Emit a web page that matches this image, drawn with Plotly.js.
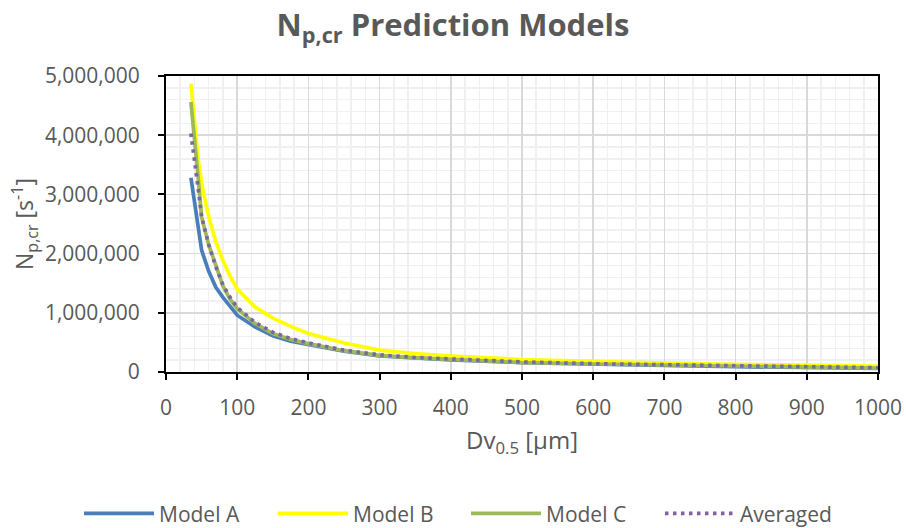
<!DOCTYPE html>
<html>
<head>
<meta charset="utf-8">
<script src="https://cdn.plot.ly/plotly-3.0.1.min.js"></script>
<style>html,body{margin:0;padding:0;background:#fff;}#chart{width:906px;height:528px;}</style>
</head>
<body>
<div id="chart"></div>
<script>
// Particle diameter Dv0.5 [µm]
const dv = [35, 40, 45, 50, 60, 70, 80, 90, 100, 125, 150, 175, 200, 250, 300, 350, 400, 500, 600, 700, 800, 900, 1000];
// Np,cr [s^-1]
const modelA = [3280000, 2850000, 2450000, 2060000, 1700000, 1430000, 1260000, 1100000, 960000, 760000, 610000, 520000, 460000, 350000, 270000, 235000, 205000, 160000, 130000, 110000, 90000, 75000, 60000];
const modelB = [4870000, 4150000, 3600000, 3180000, 2620000, 2200000, 1880000, 1620000, 1400000, 1100000, 910000, 770000, 650000, 490000, 370000, 310000, 270000, 210000, 175000, 150000, 130000, 115000, 100000];
const modelC = [4560000, 3850000, 3300000, 2620000, 2150000, 1800000, 1450000, 1230000, 1070000, 820000, 650000, 550000, 480000, 360000, 280000, 240000, 210000, 160000, 135000, 115000, 95000, 80000, 65000];
const averaged = [4030000, 3600000, 3120000, 2620000, 2150000, 1780000, 1470000, 1260000, 1090000, 840000, 670000, 565000, 490000, 370000, 290000, 245000, 215000, 170000, 140000, 120000, 100000, 85000, 72000];
const seriesNames = ['Model A', 'Model B', 'Model C', 'Averaged'];

const FONT = 'Open Sans, sans-serif';
const GREY = '#595959';
const W = 906;

const traces = [
  {x: dv, y: modelA, name: seriesNames[0], mode: 'lines', legend: 'legend', line: {color: '#4a7ebb', width: 3.7}},
  {x: dv, y: modelB, name: seriesNames[1], mode: 'lines', legend: 'legend2', line: {color: '#ffff00', width: 3.7}},
  {x: dv, y: modelC, name: seriesNames[2], mode: 'lines', legend: 'legend3', line: {color: '#9bbb59', width: 3.7}},
  {x: dv, y: averaged, name: seriesNames[3], mode: 'lines', legend: 'legend4', line: {color: '#8064a2', width: 3.7, dash: '3.5px,4.5px'}}
];

function leg(px) {
  return {
    orientation: 'h', x: px / W, xref: 'container', xanchor: 'left',
    y: 0.027, yref: 'container', yanchor: 'middle',
    font: {family: FONT, size: 21, color: GREY},
    itemwidth: 70, bgcolor: 'rgba(0,0,0,0)', borderwidth: 0
  };
}

const layout = {
  width: 906, height: 528,
  paper_bgcolor: '#ffffff', plot_bgcolor: '#ffffff',
  margin: {l: 166, r: 28, t: 76, b: 156, autoexpand: false},
  font: {family: FONT, color: GREY, size: 21},
  title: {
    text: '<b>N<sub>p,cr</sub> Prediction Models</b>',
    font: {family: FONT, size: 31, color: GREY},
    x: 0.5, xanchor: 'center', y: 0.952, yanchor: 'middle'
  },
  xaxis: {
    range: [0, 1000], dtick: 100, tick0: 0,
    showline: true, linecolor: '#000', linewidth: 2, mirror: true,
    ticks: 'outside', ticklen: 6, tickwidth: 2, tickcolor: '#000',
    showgrid: true, gridcolor: '#d9d9d9', gridwidth: 1.5,
    minor: {dtick: 20, showgrid: true, gridcolor: '#f0f0f0', gridwidth: 1.5, ticks: ''},
    zeroline: false,
    tickfont: {family: FONT, size: 21, color: GREY},
    ticklabelstandoff: 10,
    title: {text: 'Dv<sub>0.5</sub> [µm]', font: {family: FONT, size: 24, color: GREY}, standoff: 12}
  },
  yaxis: {
    range: [0, 5000000], dtick: 1000000, tick0: 0, tickformat: ',d',
    showline: true, linecolor: '#000', linewidth: 2, mirror: true,
    ticks: 'outside', ticklen: 6, tickwidth: 2, tickcolor: '#000',
    showgrid: true, gridcolor: '#d9d9d9', gridwidth: 1.5,
    minor: {dtick: 200000, showgrid: true, gridcolor: '#f0f0f0', gridwidth: 1.5, ticks: ''},
    zeroline: false,
    tickfont: {family: FONT, size: 21, color: GREY},
    ticklabelstandoff: 14,
    title: {text: 'N<sub>p,cr</sub> [s<sup>-1</sup>]', font: {family: FONT, size: 23, color: GREY}, standoff: 5}
  },
  showlegend: true,
  legend: leg(79),
  legend2: leg(273),
  legend3: leg(466),
  legend4: leg(660)
};

Plotly.newPlot('chart', traces, layout, {displayModeBar: false, staticPlot: true});
</script>
</body>
</html>
